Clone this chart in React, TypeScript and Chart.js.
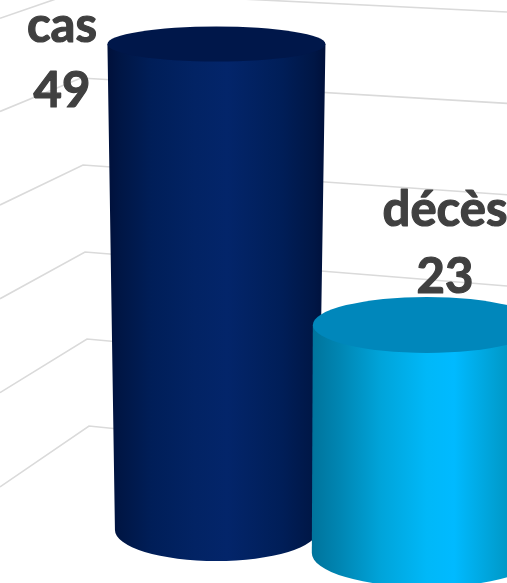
import React, { useEffect, useRef } from "react";
import { Chart, registerables } from "chart.js";

Chart.register(...registerables);

const categories = ["cas", "décès"];
const casValues = [49, null];
const decesValues = [null, 23];
const gridValues = [10, 20, 30, 40, 50, 60];

const W = 640;
const H = 640;
const TEXT = "#404040";
const GRID = "#dadada";

type Look = {
  topRx: number; topRy: number; botRx: number; botRy: number;
  stops: [number, string][]; lid: string; labelX: number; nameY: number; valueY: number;
};

const looks: Look[] = [
  {
    topRx: 109, topRy: 17.5, botRx: 101.5, botRy: 31,
    stops: [[0, "#00103a"], [0.06, "#001645"], [0.2, "#001e58"], [0.4, "#022364"], [0.55, "#03256a"], [0.8, "#001e58"], [0.95, "#001645"], [1, "#00103a"]],
    lid: "#00174a", labelX: 62, nameY: 42, valueY: 107,
  },
  {
    topRx: 114, topRy: 28, botRx: 115, botRy: 34,
    stops: [[0, "#00749c"], [0.12, "#0086b3"], [0.3, "#00a4da"], [0.5, "#00b8f8"], [0.62, "#00baff"], [0.85, "#0099c8"], [1, "#007aa5"]],
    lid: "#0087bb", labelX: 445, nameY: 226, valueY: 293,
  },
];

const cylinderPlugin = {
  id: "cylinder",
  beforeDatasetsDraw(chart: any) {
    const ctx = chart.ctx;
    const wall = chart.scales.yWall;
    ctx.save();
    ctx.strokeStyle = GRID;
    ctx.lineWidth = 1.6;
    for (const v of gridValues) {
      const y = wall.getPixelForValue(v);
      const cx = 91 - 0.2 * v;
      const leftSlope = 0.753 - 0.0068 * v;
      const rightSlope = 0.112 - 0.00105 * v;
      ctx.beginPath();
      ctx.moveTo(0, y + cx * leftSlope);
      ctx.lineTo(cx, y);
      ctx.lineTo(507, y + (507 - cx) * rightSlope);
      ctx.stroke();
    }
    ctx.restore();
  },
  afterDatasetDraw(chart: any, args: any) {
    const i = args.index;
    const look = looks[i];
    const el = chart.getDatasetMeta(i).data[i];
    const ctx = chart.ctx;
    const { x, y, base } = el;
    const g = ctx.createLinearGradient(x - look.topRx, 0, x + look.topRx, 0);
    look.stops.forEach(([p, c]) => g.addColorStop(p, c));
    ctx.save();
    ctx.fillStyle = g;
    ctx.beginPath();
    ctx.moveTo(x - look.topRx, y);
    ctx.lineTo(x - look.botRx, base);
    ctx.ellipse(x, base, look.botRx, look.botRy, 0, Math.PI, 0, true);
    ctx.lineTo(x + look.topRx, y);
    ctx.closePath();
    ctx.fill();
    ctx.fillStyle = look.lid;
    ctx.beginPath();
    ctx.ellipse(x, y, look.topRx, look.topRy, 0, 0, Math.PI * 2);
    ctx.fill();
    ctx.restore();
  },
  afterDatasetsDraw(chart: any) {
    const ctx = chart.ctx;
    ctx.save();
    ctx.fillStyle = TEXT;
    ctx.strokeStyle = TEXT;
    ctx.lineWidth = 1.2;
    ctx.lineJoin = "round";
    ctx.font = "bold 49px Lato";
    ctx.textAlign = "center";
    ctx.textBaseline = "alphabetic";
    chart.data.datasets.forEach((ds: any, i: number) => {
      const look = looks[i];
      ctx.fillText(categories[i], look.labelX, look.nameY);
      ctx.strokeText(categories[i], look.labelX, look.nameY);
      ctx.fillText(String(ds.data[i]), look.labelX, look.valueY);
      ctx.strokeText(String(ds.data[i]), look.labelX, look.valueY);
    });
    ctx.restore();
  },
};

export default function App() {
  const ref = useRef<HTMLCanvasElement>(null);
  useEffect(() => {
    const chart = new Chart(ref.current as HTMLCanvasElement, {
      type: "bar",
      data: {
        labels: categories,
        datasets: [
          { label: "cas", data: casValues, yAxisID: "y", backgroundColor: "#00205c", barThickness: 200, grouped: false, order: 2 },
          { label: "décès", data: decesValues, yAxisID: "yDeces", backgroundColor: "#00a5dc", barThickness: 226, grouped: false, order: 1 },
        ] as any,
      },
      options: {
        animation: false,
        responsive: false,
        devicePixelRatio: 1,
        layout: { padding: { left: 111.25, right: 108, top: 0, bottom: 0 } },
        plugins: { legend: { display: false }, tooltip: { enabled: false } },
        scales: {
          x: { display: false, offset: true },
          y: { display: false, min: -11.09, max: 53.44 },
          yDeces: { display: false, min: -8.77, max: 55.76 },
          yWall: { display: false, min: -14.6, max: 58.97 },
        },
      },
      plugins: [cylinderPlugin],
    } as any);
    return () => chart.destroy();
  }, []);
  return (
    <div style={{ position: "fixed", left: 0, top: 0, width: 507, height: 583, overflow: "hidden", background: "#fff" }}>
      <canvas ref={ref} width={W} height={H} style={{ display: "block" }} />
    </div>
  );
}
